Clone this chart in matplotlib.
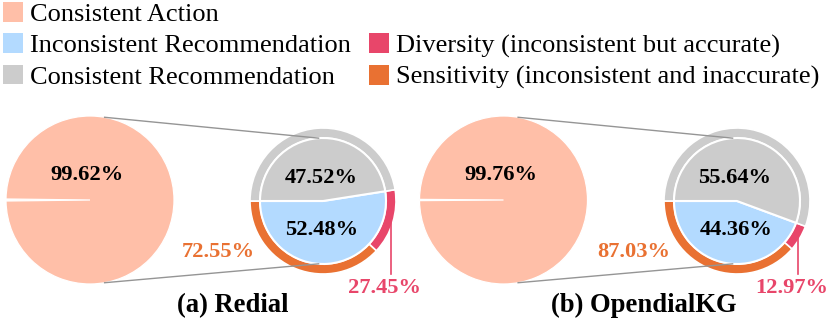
import numpy as np
import matplotlib
matplotlib.use('Agg')
import matplotlib.pyplot as plt
from matplotlib.patches import Patch

plt.rcParams['font.family'] = ['Liberation Serif', 'DejaVu Serif']

# ---------------- data ----------------
titles = ['(a) Redial', '(b) OpendialKG']
consistent_action = [99.62, 99.76]
inconsistent_rec = [52.48, 44.36]
consistent_rec = [47.52, 55.64]
diversity = [27.45, 12.97]      # share of inconsistent recommendation
sensitivity = [72.55, 87.03]    # share of inconsistent recommendation
legend_labels = ['Consistent Action', 'Inconsistent Recommendation',
                 'Consistent Recommendation',
                 'Diversity (inconsistent but accurate)',
                 'Sensitivity (inconsistent and inaccurate)']

# ---------------- style ----------------
C_ACTION = '#FFBFA8'
C_INC = '#B3DAFF'
C_CONS = '#CCCCCC'
C_DIV = '#E8466A'
C_SENS = '#E97132'
C_LINK = '#959595'

W, H = 830, 321
fig = plt.figure(figsize=(W / 100, H / 100), dpi=100)
ax = fig.add_axes([0, 0, 1, 1])


def Y(y):
    return H - y


big_cx = [90, 503.5]
small_cx = [323, 737]
big_cy, small_cy = 200, 201
R_BIG, R_OUT, R_IN = 84, 73, 63
title_x = [233, 644]
sens_lab_dx = [-105, -103]

for i in range(2):
    bc = (big_cx[i], Y(big_cy))
    sc = (small_cx[i], Y(small_cy))
    ca = consistent_action[i]
    rest = 100 - ca
    # big pie (small remainder slice centred on 9 o'clock, drawn white)
    ax.pie([rest, ca], colors=['white', C_ACTION],
           startangle=180 - rest * 1.8, counterclock=True,
           radius=R_BIG, center=bc,
           wedgeprops=dict(edgecolor='white', linewidth=0.9))
    ax.text(bc[0] - 3, bc[1] + 20, f'{ca:.2f}%', ha='center', va='baseline',
            fontsize=16.2, fontweight='bold', color='black')

    inc, cons = inconsistent_rec[i], consistent_rec[i]
    sens_part = inc * sensitivity[i] / 100
    div_part = inc * diversity[i] / 100
    # outer ring
    ax.pie([sens_part, div_part, cons], colors=[C_SENS, C_DIV, C_CONS],
           startangle=180, counterclock=True, radius=R_OUT, center=sc,
           wedgeprops=dict(width=R_OUT - R_IN, edgecolor='white', linewidth=1.2))
    # inner pie
    ax.pie([inc, cons], colors=[C_INC, C_CONS], startangle=180,
           counterclock=True, radius=R_IN, center=sc,
           wedgeprops=dict(edgecolor='white', linewidth=1.5))
    ax.text(sc[0] - 2, sc[1] + 18, f'{cons:.2f}%', ha='center', va='baseline',
            fontsize=16.2, fontweight='bold', color='black')
    ax.text(sc[0] - 1, sc[1] - 34, f'{inc:.2f}%', ha='center', va='baseline',
            fontsize=16.2, fontweight='bold', color='black')

    # connector lines
    for sgn in (1, -1):
        a1 = np.deg2rad(80 * sgn)
        a2 = np.deg2rad(94 * sgn)
        ax.plot([bc[0] + R_BIG * np.cos(a1), sc[0] + R_IN * np.cos(a2)],
                [bc[1] + R_BIG * np.sin(a1), sc[1] + R_IN * np.sin(a2)],
                color=C_LINK, lw=1.0, zorder=5)

    # sensitivity label
    ax.text(sc[0] + sens_lab_dx[i], sc[1] - 56, f'{sensitivity[i]:.2f}%',
            ha='center', va='baseline', fontsize=16.2, fontweight='bold',
            color=C_SENS)
    # diversity leader + label
    a0 = 180 + inc * 3.6 * sensitivity[i] / 100
    a1 = 180 + inc * 3.6
    am = np.deg2rad((a0 + a1) / 2)
    lx = sc[0] + (R_OUT - 2) * np.cos(am)
    ly = sc[1] + (R_OUT - 2) * np.sin(am)
    ax.plot([lx, lx], [ly, Y(274)], color=C_DIV, lw=1.2)
    ax.text(lx - 6, Y(293), f'{diversity[i]:.2f}%', ha='center', va='baseline',
            fontsize=16.2, fontweight='bold', color=C_DIV)

    ax.text(title_x[i], Y(312), titles[i], ha='center', va='baseline',
            fontsize=19.2, fontweight='bold', color='black')

ax.set_xlim(0, W)
ax.set_ylim(0, H)
ax.set_aspect('auto')
ax.axis('off')

handles = [Patch(facecolor=C_ACTION, edgecolor='none'),
           Patch(facecolor=C_INC, edgecolor='none'),
           Patch(facecolor=C_CONS, edgecolor='none'),
           Patch(facecolor='none', edgecolor='none'),
           Patch(facecolor=C_DIV, edgecolor='none'),
           Patch(facecolor=C_SENS, edgecolor='none')]
labels = legend_labels[:3] + [''] + legend_labels[3:]
fig.legend(handles, labels, loc='upper left', bbox_to_anchor=(3 / W, 1 - 2 / H),
           ncol=2, frameon=False, fontsize=19, borderpad=0, borderaxespad=0,
           handlelength=0.76, handleheight=0.76, handletextpad=0.25,
           columnspacing=0.7, labelspacing=0.28)

fig.savefig('out.png', dpi=100)
